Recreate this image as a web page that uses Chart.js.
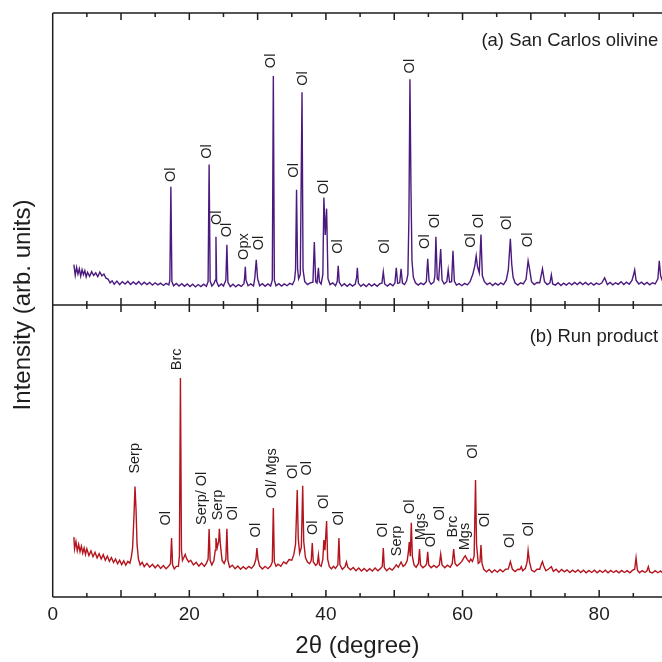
<!DOCTYPE html>
<html>
<head>
<meta charset="utf-8">
<script src="https://cdn.jsdelivr.net/npm/chart.js@4.4.1/dist/chart.umd.min.js"></script>
<style>
  html, body { margin: 0; padding: 0; background: #fff; }
  #wrap { width: 662px; height: 662px; }
</style>
</head>
<body>
<div id="wrap"><canvas id="xrd" width="662" height="662"></canvas></div>
<script>
/* globals Chart:false */
(() => {
  'use strict'

  // 2theta (degree), intensity (arb. units, 0-100 per panel)
  const olivinePattern = [
    [3.1, 13.8], [3.3, 10.2], [3.5, 12.9], [3.7, 10.6], [3.9, 12.4], [4.1, 9.9], [4.3, 12.1], [4.5, 10.4],
    [4.7, 11.8], [4.9, 9.6], [5.1, 11.2], [5.4, 9.8], [5.7, 11.4], [6.0, 10.1], [6.3, 11.0], [6.6, 9.7],
    [6.9, 11.3], [7.2, 10.0], [7.5, 10.6], [7.8, 9.2], [8.1, 8.9], [8.4, 7.6], [8.7, 8.3], [9.0, 7.1],
    [9.4, 8.2], [9.8, 7.0], [10.2, 8.0], [10.6, 7.2], [11.0, 8.1], [11.4, 7.0], [11.8, 7.9], [12.2, 7.1],
    [12.6, 8.0], [13.0, 6.9], [13.4, 7.8], [13.8, 7.0], [14.2, 7.7], [14.6, 6.8], [15.0, 7.6], [15.4, 6.9],
    [15.8, 7.5], [16.2, 6.7], [16.6, 7.4], [17.0, 6.9], [17.15, 8.5], [17.3, 40.5], [17.45, 8.0], [17.7, 6.6],
    [18.1, 7.4], [18.5, 6.5], [18.9, 7.3], [19.3, 6.4], [19.7, 7.2], [20.1, 6.3], [20.5, 7.1], [20.9, 6.2],
    [21.3, 7.0], [21.7, 6.3], [22.1, 7.1], [22.5, 6.4], [22.75, 8.0], [22.9, 48.1], [23.05, 8.2], [23.3, 6.5],
    [23.6, 7.3], [23.8, 8.5], [23.9, 23.4], [24.0, 8.0], [24.3, 6.4], [24.7, 7.2], [25.0, 6.5], [25.35, 8.5],
    [25.5, 20.6], [25.65, 7.8], [26.0, 6.3], [26.4, 7.1], [26.8, 6.2], [27.2, 7.0], [27.6, 6.4], [28.0, 7.3],
    [28.1, 9.5], [28.2, 13.1], [28.3, 8.5], [28.6, 6.6], [29.0, 7.2], [29.4, 6.5], [29.6, 9.5], [29.8, 15.5],
    [30.0, 9.0], [30.3, 6.6], [30.7, 7.3], [31.1, 6.4], [31.5, 7.2], [31.9, 6.5], [32.15, 8.5], [32.3, 78.4],
    [32.45, 8.5], [32.7, 6.6], [33.1, 7.3], [33.5, 6.5], [33.9, 7.2], [34.3, 6.6], [34.7, 7.4], [35.1, 7.0],
    [35.4, 8.5], [35.55, 12.0], [35.7, 39.5], [35.85, 12.5], [36.0, 9.0], [36.25, 10.5], [36.5, 72.9], [36.65, 12.0],
    [36.9, 8.0], [37.3, 7.0], [37.7, 7.6], [38.1, 7.8], [38.3, 21.6], [38.5, 8.0], [38.7, 7.5], [38.9, 12.7],
    [39.05, 8.0], [39.3, 7.2], [39.55, 10.5], [39.7, 36.8], [39.9, 24.0], [40.1, 33.0], [40.3, 9.0], [40.6, 7.0],
    [41.0, 7.6], [41.4, 6.6], [41.65, 8.0], [41.8, 13.4], [41.95, 7.8], [42.3, 6.5], [42.7, 7.3], [43.1, 6.4],
    [43.5, 7.2], [43.9, 6.5], [44.3, 7.2], [44.5, 9.5], [44.6, 12.7], [44.75, 7.5], [45.1, 6.4], [45.5, 7.1],
    [45.9, 6.3], [46.3, 7.3], [46.7, 6.5], [47.1, 7.2], [47.5, 6.4], [47.9, 7.3], [48.2, 7.5], [48.4, 11.3],
    [48.6, 7.2], [49.0, 6.5], [49.4, 7.3], [49.8, 6.6], [50.1, 7.5], [50.3, 12.7], [50.5, 7.4], [50.8, 7.6],
    [51.0, 12.4], [51.2, 7.5], [51.5, 7.0], [51.8, 8.2], [52.0, 10.5], [52.15, 30.0], [52.3, 77.3], [52.45, 40.0],
    [52.6, 15.0], [52.8, 9.5], [53.1, 7.6], [53.5, 6.8], [53.9, 7.5], [54.3, 7.0], [54.7, 8.0], [54.9, 15.8],
    [55.1, 8.2], [55.4, 7.1], [55.8, 7.9], [55.95, 10.0], [56.1, 23.4], [56.3, 9.0], [56.5, 8.5], [56.8, 19.2],
    [57.0, 8.5], [57.3, 7.2], [57.7, 8.0], [57.9, 12.0], [58.1, 7.8], [58.4, 8.0], [58.6, 18.6], [58.8, 8.2],
    [59.1, 6.8], [59.5, 7.3], [59.9, 6.6], [60.3, 7.4], [60.7, 6.9], [61.1, 8.0], [61.5, 10.5], [61.8, 13.5],
    [62.0, 16.8], [62.2, 13.0], [62.45, 11.0], [62.7, 24.1], [62.9, 10.0], [63.2, 8.0], [63.6, 7.0], [64.0, 7.6],
    [64.4, 6.7], [64.8, 7.5], [65.2, 6.8], [65.6, 7.6], [66.0, 7.0], [66.4, 8.5], [66.7, 12.0], [67.0, 22.7],
    [67.2, 14.0], [67.4, 9.5], [67.7, 7.5], [68.1, 6.8], [68.5, 7.6], [68.9, 7.2], [69.3, 8.8], [69.5, 13.0],
    [69.6, 15.1], [69.8, 12.5], [70.1, 8.0], [70.5, 7.0], [70.9, 7.7], [71.3, 7.6], [71.7, 12.4], [72.0, 8.0],
    [72.4, 7.0], [72.8, 7.6], [73.0, 10.3], [73.2, 7.2], [73.6, 6.8], [74.0, 7.6], [74.4, 6.7], [74.8, 7.5],
    [75.2, 6.8], [75.6, 7.6], [76.0, 6.9], [76.4, 7.7], [76.8, 7.0], [77.2, 7.8], [77.6, 7.0], [78.0, 7.7],
    [78.4, 6.9], [78.8, 7.6], [79.2, 6.8], [79.6, 7.5], [80.0, 7.0], [80.4, 7.6], [80.8, 9.3], [81.2, 7.0],
    [81.6, 7.7], [82.0, 6.9], [82.4, 7.6], [82.8, 7.1], [83.2, 8.0], [83.6, 7.0], [84.0, 7.8], [84.4, 7.1],
    [84.8, 8.4], [85.0, 10.0], [85.2, 12.0], [85.4, 8.5], [85.8, 7.2], [86.2, 7.8], [86.6, 7.0], [87.0, 7.7],
    [87.4, 6.9], [87.8, 7.6], [88.2, 7.2], [88.6, 9.0], [88.8, 15.1], [89.0, 10.0], [89.3, 8.0]
  ]

  const runProductPattern = [
    [3.1, 20.5], [3.2, 16.5], [3.4, 19.0], [3.6, 15.8], [3.8, 18.0], [4.0, 15.5], [4.2, 17.4], [4.4, 15.0],
    [4.6, 16.8], [4.8, 14.6], [5.0, 16.5], [5.3, 14.2], [5.6, 15.8], [5.9, 13.8], [6.2, 15.3], [6.5, 13.4],
    [6.8, 14.8], [7.1, 13.0], [7.4, 14.5], [7.7, 12.6], [8.0, 14.0], [8.3, 12.2], [8.6, 13.5], [8.9, 11.8],
    [9.2, 13.0], [9.5, 11.4], [9.8, 12.6], [10.1, 11.1], [10.4, 12.4], [10.7, 10.9], [11.0, 12.2], [11.3, 11.6],
    [11.5, 13.5], [11.7, 17.0], [11.9, 28.0], [12.05, 37.8], [12.2, 30.0], [12.35, 18.0], [12.55, 13.0], [12.8, 11.0],
    [13.1, 11.9], [13.4, 10.4], [13.8, 11.5], [14.2, 10.2], [14.6, 11.2], [15.0, 10.0], [15.4, 11.0], [15.8, 9.8],
    [16.2, 10.8], [16.6, 9.7], [17.0, 10.6], [17.25, 11.5], [17.4, 20.2], [17.55, 11.0], [17.8, 9.6], [18.1, 10.5],
    [18.4, 10.5], [18.55, 14.0], [18.7, 75.0], [18.85, 16.0], [19.0, 12.5], [19.2, 13.5], [19.4, 14.6], [19.6, 13.2],
    [19.9, 12.0], [20.2, 12.6], [20.6, 11.0], [21.0, 11.9], [21.4, 10.6], [21.8, 11.6], [22.2, 10.5], [22.5, 11.5],
    [22.75, 13.0], [22.9, 23.3], [23.05, 12.5], [23.3, 11.0], [23.6, 12.5], [23.8, 16.0], [23.9, 20.2], [24.1, 17.0],
    [24.3, 19.0], [24.4, 23.4], [24.55, 18.0], [24.8, 12.5], [25.1, 11.5], [25.35, 13.0], [25.5, 23.4], [25.65, 12.5],
    [25.9, 10.2], [26.3, 10.9], [26.7, 9.7], [27.1, 10.6], [27.5, 9.5], [27.9, 10.4], [28.3, 9.6], [28.7, 10.5],
    [29.1, 9.8], [29.5, 11.0], [29.75, 13.0], [29.9, 16.8], [30.05, 13.0], [30.3, 10.6], [30.7, 9.6], [31.1, 10.5],
    [31.5, 9.7], [31.9, 10.6], [32.15, 12.0], [32.3, 30.5], [32.45, 12.0], [32.7, 10.5], [33.0, 11.2], [33.4, 10.5],
    [33.8, 12.0], [34.2, 11.4], [34.6, 12.8], [35.0, 12.6], [35.3, 14.5], [35.55, 18.0], [35.8, 36.6], [35.95, 20.0],
    [36.15, 15.0], [36.4, 17.0], [36.6, 38.1], [36.75, 19.0], [37.0, 13.5], [37.3, 12.0], [37.6, 11.4], [37.85, 12.5],
    [38.0, 18.5], [38.15, 12.0], [38.5, 10.8], [38.75, 11.5], [38.9, 14.4], [39.05, 11.0], [39.3, 10.5], [39.55, 13.0],
    [39.7, 19.5], [39.85, 16.0], [40.0, 22.0], [40.1, 26.0], [40.25, 13.0], [40.5, 10.5], [40.8, 9.6], [41.1, 10.5],
    [41.4, 9.8], [41.75, 11.0], [41.9, 20.2], [42.05, 11.0], [42.4, 9.5], [42.8, 10.4], [43.0, 12.0], [43.2, 10.2],
    [43.6, 9.3], [44.0, 10.1], [44.4, 9.0], [44.8, 9.9], [45.2, 8.9], [45.6, 9.8], [46.0, 8.8], [46.4, 9.7],
    [46.8, 8.9], [47.2, 9.9], [47.6, 9.0], [48.0, 9.8], [48.25, 10.5], [48.4, 16.8], [48.55, 10.0], [48.9, 9.0],
    [49.3, 9.9], [49.7, 9.2], [50.0, 10.0], [50.3, 11.0], [50.6, 10.2], [51.0, 12.0], [51.3, 10.5], [51.6, 11.0],
    [51.9, 12.5], [52.05, 15.0], [52.2, 18.8], [52.35, 14.0], [52.5, 25.4], [52.65, 14.0], [52.9, 11.0], [53.2, 10.2],
    [53.55, 11.5], [53.7, 16.4], [53.85, 11.0], [54.2, 10.0], [54.6, 10.8], [54.75, 11.5], [54.9, 15.5], [55.05, 11.0],
    [55.4, 10.0], [55.8, 10.8], [56.2, 10.1], [56.6, 11.0], [56.8, 14.7], [57.0, 11.0], [57.4, 10.0], [57.8, 10.9],
    [58.2, 10.2], [58.5, 11.5], [58.7, 16.4], [58.9, 11.5], [59.2, 10.6], [59.6, 11.5], [59.9, 12.2], [60.2, 13.5],
    [60.4, 14.1], [60.7, 12.8], [61.0, 12.0], [61.2, 13.0], [61.45, 12.2], [61.7, 14.0], [61.9, 40.1], [62.05, 18.0],
    [62.3, 11.5], [62.55, 12.0], [62.7, 17.8], [62.85, 11.5], [63.1, 9.5], [63.5, 8.6], [63.9, 9.4], [64.3, 8.4],
    [64.7, 9.3], [65.1, 8.5], [65.5, 9.4], [65.9, 8.6], [66.3, 9.5], [66.7, 9.6], [67.0, 12.1], [67.3, 9.5],
    [67.7, 8.7], [68.1, 9.5], [68.4, 9.4], [68.6, 10.4], [68.8, 9.0], [69.2, 9.8], [69.45, 12.0], [69.6, 15.9],
    [69.8, 12.0], [70.1, 9.2], [70.5, 8.6], [70.9, 9.5], [71.3, 9.5], [71.5, 11.0], [71.7, 12.1], [71.9, 10.5],
    [72.2, 9.0], [72.6, 9.6], [73.0, 10.4], [73.3, 8.8], [73.7, 9.5], [74.1, 8.5], [74.5, 9.4], [74.9, 8.6],
    [75.3, 9.3], [75.7, 8.4], [76.1, 9.2], [76.5, 8.5], [76.9, 9.3], [77.3, 8.4], [77.7, 9.2], [78.1, 8.3],
    [78.5, 9.1], [78.9, 8.4], [79.3, 9.2], [79.7, 8.3], [80.1, 9.1], [80.5, 8.4], [80.9, 9.2], [81.3, 8.3],
    [81.7, 9.1], [82.1, 8.4], [82.5, 9.0], [82.9, 8.3], [83.3, 9.1], [83.7, 8.4], [84.1, 9.0], [84.5, 8.3],
    [84.9, 9.2], [85.2, 9.5], [85.4, 13.4], [85.6, 9.2], [85.9, 8.3], [86.3, 9.0], [86.7, 8.4], [87.0, 9.0],
    [87.2, 10.4], [87.4, 8.6], [87.8, 8.2], [88.2, 9.0], [88.6, 8.3], [89.0, 8.9], [89.3, 8.2]
  ]

  // phase labels: [2theta, intensity of label centre, text]
  const olivineLabels = [
    [17.28, 44.6, 'Ol'], [22.66, 52.6, 'Ol'], [24.04, 29.9, 'Ol'], [25.51, 25.7, 'Ol'],
    [27.94, 20.0, 'Opx'], [30.15, 21.2, 'Ol'], [31.97, 83.6, 'Ol'], [35.29, 46.1, 'Ol'],
    [36.61, 77.6, 'Ol'], [39.69, 40.4, 'Ol'], [41.75, 20.0, 'Ol'], [48.65, 20.0, 'Ol'],
    [52.28, 81.8, 'Ol'], [54.48, 21.7, 'Ol'], [55.99, 28.8, 'Ol'], [61.23, 22.1, 'Ol'],
    [62.45, 28.8, 'Ol'], [66.48, 28.2, 'Ol'], [69.56, 22.3, 'Ol']
  ]
  const runProductLabels = [
    [12.04, 47.5, 'Serp'], [16.55, 27.0, 'Ol'], [18.16, 81.4, 'Brc'], [21.84, 33.8, 'Serp/ Ol'],
    [24.19, 31.5, 'Serp'], [26.39, 28.7, 'Ol'], [29.81, 22.9, 'Ol'], [32.11, 42.4, 'Ol/ Mgs'],
    [35.14, 42.9, 'Ol'], [37.25, 44.1, 'Ol'], [38.08, 23.7, 'Ol'], [39.79, 32.6, 'Ol'],
    [41.89, 27.0, 'Ol'], [48.36, 22.9, 'Ol'], [50.37, 19.2, 'Serp'], [52.28, 30.9, 'Ol'],
    [53.89, 24.1, 'Mgs'], [55.36, 19.5, 'Ol'], [56.68, 28.7, 'Ol'], [58.55, 24.1, 'Brc'],
    [60.35, 20.7, 'Mgs'], [61.48, 49.8, 'Ol'], [63.33, 26.4, 'Ol'], [67.0, 19.3, 'Ol'],
    [69.79, 23.2, 'Ol']
  ]

  const panelTitles = ['(a) San Carlos olivine', '(b) Run product']
  const xTickValues = [0, 10, 20, 30, 40, 50, 60, 70, 80]
  const xTickLabels = [0, 20, 40, 60, 80]

  const FONT = 'Arial, "Liberation Sans", sans-serif'
  const INK = '#1e1e1e'

  const toPoints = rows => rows.map(([x, y]) => ({ x, y }))

  // frame, inward ticks, rotated phase labels and panel titles
  const decorations = {
    id: 'decorations',
    afterDatasetsDraw(chart) {
      const { ctx, chartArea: area, scales } = chart
      const x = scales.x
      const yTop = scales.yTop
      const yBottom = scales.yBottom
      const mid = yTop.getPixelForValue(0)

      ctx.save()
      ctx.strokeStyle = INK
      ctx.lineWidth = 1.5
      ctx.beginPath()
      ctx.moveTo(area.left, area.top)
      ctx.lineTo(area.left, area.bottom)
      ctx.moveTo(area.left, area.top)
      ctx.lineTo(area.right + 2, area.top)
      ctx.moveTo(area.left, mid)
      ctx.lineTo(area.right + 2, mid)
      ctx.moveTo(area.left, area.bottom)
      ctx.lineTo(area.right + 2, area.bottom)
      for (let v = 5; v <= 85; v += 5) {
        const px = x.getPixelForValue(v)
        const len = v % 10 === 0 ? 7 : 4
        ctx.moveTo(px, area.top)
        ctx.lineTo(px, area.top + len)
        ctx.moveTo(px, mid - len)
        ctx.lineTo(px, mid + len)
        ctx.moveTo(px, area.bottom)
        ctx.lineTo(px, area.bottom - len)
      }
      ctx.stroke()

      ctx.fillStyle = INK
      ctx.font = '14.5px ' + FONT
      ctx.textAlign = 'center'
      ctx.textBaseline = 'middle'
      const drawLabels = (rows, scale) => {
        rows.forEach(([v, i, text]) => {
          ctx.save()
          ctx.translate(x.getPixelForValue(v), scale.getPixelForValue(i))
          ctx.rotate(-Math.PI / 2)
          ctx.fillText(text, 0, 0)
          ctx.restore()
        })
      }
      drawLabels(olivineLabels, yTop)
      drawLabels(runProductLabels, yBottom)

      ctx.font = '18.5px ' + FONT
      ctx.textAlign = 'right'
      ctx.fillText(panelTitles[0], x.getPixelForValue(88.65), yTop.getPixelForValue(90.4))
      ctx.fillText(panelTitles[1], x.getPixelForValue(88.65), yBottom.getPixelForValue(89.1))
      ctx.restore()
    }
  }

  const ctx = document.getElementById('xrd')

  // eslint-disable-next-line no-unused-vars
  const xrdChart = new Chart(ctx, {
    type: 'line',
    data: {
      datasets: [{
        label: panelTitles[0],
        data: toPoints(olivinePattern),
        yAxisID: 'yTop',
        borderColor: '#4a1a7e',
        borderWidth: 1.4,
        pointRadius: 0,
        tension: 0
      }, {
        label: panelTitles[1],
        data: toPoints(runProductPattern),
        yAxisID: 'yBottom',
        borderColor: '#b3141d',
        borderWidth: 1.4,
        pointRadius: 0,
        tension: 0
      }]
    },
    options: {
      responsive: false,
      animation: false,
      layout: { padding: { top: 13, right: 0, bottom: 0, left: 0 } },
      plugins: {
        legend: { display: false },
        tooltip: { enabled: false }
      },
      scales: {
        x: {
          type: 'linear',
          min: 0,
          max: 89.2,
          grid: { display: false, drawTicks: false },
          border: { display: false },
          afterBuildTicks: scale => {
            scale.ticks = xTickValues.map(value => ({ value }))
          },
          ticks: {
            autoSkip: false,
            maxRotation: 0,
            padding: 6,
            color: INK,
            font: { family: FONT, size: 19 },
            callback: v => (xTickLabels.includes(v) ? String(v) : '')
          },
          title: {
            display: true,
            text: '2θ (degree)',
            color: INK,
            font: { family: FONT, size: 24 },
            padding: { top: 4, bottom: 1 }
          },
          afterFit: scale => {
            scale.height = 65
            scale.paddingRight = 0
          }
        },
        yTop: {
          position: 'left',
          min: -100,
          max: 100,
          grid: { display: false, drawTicks: false },
          border: { display: false },
          ticks: { display: false },
          title: {
            display: true,
            text: 'Intensity (arb. units)',
            color: INK,
            font: { family: FONT, size: 24 },
            padding: { top: 9, bottom: 0 }
          },
          afterFit: scale => { scale.width = 52.7 }
        },
        yBottom: {
          display: false,
          min: 0,
          max: 200
        }
      }
    },
    plugins: [decorations]
  })
})()
</script>
</body>
</html>
